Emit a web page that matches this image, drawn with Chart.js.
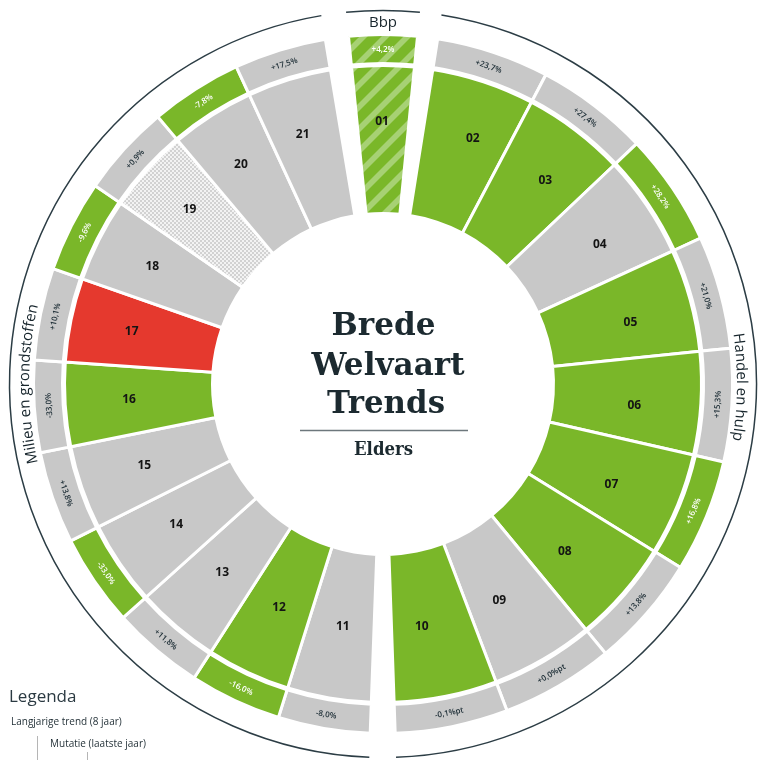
<!DOCTYPE html>
<html><head><meta charset="utf-8">
<script src="https://cdn.jsdelivr.net/npm/chart.js@4.4.1/dist/chart.umd.min.js"></script>
<style>html,body{margin:0;padding:0;background:#fff;overflow:hidden}canvas{display:block}</style>
</head><body>
<canvas id="c" width="761" height="760"></canvas>
<script>
// ---------- data ----------
const codes = ['01','02','03','04','05','06','07','08','09','10','11','12','13','14','15','16','17','18','19','20','21'];
const groupNames = ['Bbp', 'Handel en hulp', 'Milieu en grondstoffen'];
const groupSizes = [1, 9, 11];
const trendStatus = ['hatch','green','green','gray','green','green','green','green','gray','green',
                     'gray','green','gray','gray','gray','green','red','gray','nodata','gray','gray'];
const mutationLabels = ['+4,2%','+23,7%','+27,4%','+28,2%','+21,0%','+15,3%','+16,8%','+13,8%','+0,0%pt','-0,1%pt',
                        '-8,0%','-16,0%','+11,8%','-33,0%','+13,8%','-33,0%','+10,1%','-9,6%','+0,9%','-7,8%','+17,5%'];
const mutationStatus = ['hatch','gray','gray','green','gray','gray','green','gray','gray','gray',
                        'gray','green','gray','green','gray','gray','gray','green','gray','green','gray'];
const titleLines = ['Brede', 'Welvaart', 'Trends'];
const subtitle = 'Elders';
const legendTitle = 'Legenda';
const legendItems = ['Langjarige trend (8 jaar)', 'Mutatie (laatste jaar)'];

// ---------- layout / style ----------
const GREEN = '#7ab729', GRAY = '#c8c8c8', RED = '#e5392e', DARK = '#1f2d34', GAP = 'rgba(0,0,0,0)';
const groupStartDeg = [-5.67, 9.0, 182.1];
const groupEndDeg = [5.67, 178.0, 350.5];
const groupLabelDeg = [0, 90.5, 270];
const groupCodeShiftDeg = [0, 2.2, -0.73];

const canvas = document.getElementById('c');
const ctx = canvas.getContext('2d');

function makeHatch() {
  const s = 22, c = document.createElement('canvas'); c.width = c.height = s;
  const g = c.getContext('2d');
  g.fillStyle = GREEN; g.fillRect(0, 0, s, s);
  g.fillStyle = '#a7d174';
  const w = 8;
  for (let k = -1; k <= 2; k++) {
    const o = k * s;
    g.beginPath(); g.moveTo(o, 0); g.lineTo(o + w, 0); g.lineTo(o + w - s, s); g.lineTo(o - s, s); g.closePath(); g.fill();
  }
  return ctx.createPattern(c, 'repeat');
}
function makeDots() {
  const c = document.createElement('canvas'); c.width = c.height = 4;
  const g = c.getContext('2d');
  g.fillStyle = '#f3f3f3'; g.fillRect(0, 0, 4, 4);
  g.fillStyle = '#d2d2d2'; g.fillRect(0, 0, 2, 2); g.fillRect(2, 2, 2, 2);
  return ctx.createPattern(c, 'repeat');
}
const hatch = makeHatch(), dots = makeDots();
const fillFor = s => s === 'green' ? GREEN : s === 'gray' ? GRAY : s === 'red' ? RED : s === 'hatch' ? hatch : dots;

// slices: items per group, transparent gaps between groups
const sliceValues = [], sliceItem = [], sliceGroup = [];
let idx = 0;
for (let g = 0; g < groupSizes.length; g++) {
  const span = groupEndDeg[g] - groupStartDeg[g];
  for (let k = 0; k < groupSizes[g]; k++) { sliceValues.push(span / groupSizes[g]); sliceItem.push(idx++); sliceGroup.push(g); }
  const nextStart = g + 1 < groupSizes.length ? groupStartDeg[g + 1] : groupStartDeg[0] + 360;
  sliceValues.push(nextStart - groupEndDeg[g]); sliceItem.push(-1); sliceGroup.push(-1);
}
const trendBg = sliceItem.map(i => i < 0 ? GAP : fillFor(trendStatus[i]));
const mutBg = sliceItem.map(i => i < 0 ? GAP : fillFor(mutationStatus[i]));
const bw = sliceItem.map(i => i < 0 ? 0 : 3);

function curvedText(c, text, cx, cy, r, centerDeg) {
  const total = c.measureText(text).width;
  let a = centerDeg * Math.PI / 180 - (total / 2) / r;
  c.textAlign = 'center'; c.textBaseline = 'alphabetic';
  for (const ch of text) {
    const w = c.measureText(ch).width;
    const ang = a + (w / 2) / r;
    c.save();
    c.translate(cx + r * Math.sin(ang), cy - r * Math.cos(ang));
    c.rotate(ang);
    c.fillText(ch, 0, 0);
    c.restore();
    a += w / r;
  }
}
function fittedText(c, text, x, y, px, width) {
  c.font = `bold ${px}px "DejaVu Serif"`;
  const sx = width / c.measureText(text).width;
  c.save(); c.translate(x, y); c.scale(sx, 1);
  c.textAlign = 'center'; c.textBaseline = 'alphabetic';
  c.fillText(text, 0, 0);
  c.restore();
}

const overlay = {
  id: 'overlay',
  afterDraw(chart) {
    const c = chart.ctx;
    const mutMeta = chart.getDatasetMeta(0), trendMeta = chart.getDatasetMeta(2);
    const cx = trendMeta.data[0].x, cy = trendMeta.data[0].y;
    c.save();
    // outer group arcs
    c.strokeStyle = '#2c3d45'; c.lineWidth = 1.5;
    for (let g = 0; g < groupSizes.length; g++) {
      const members = sliceGroup.map((v, j) => v === g ? j : -1).filter(j => j >= 0);
      const s = trendMeta.data[members[0]].startAngle, e = trendMeta.data[members[members.length - 1]].endAngle;
      c.beginPath(); c.arc(cx, cy, 373.5, s, e); c.stroke();
    }
    // group labels
    c.fillStyle = '#17252c'; c.font = '500 15px "Open Sans"';
    c.textAlign = 'center'; c.textBaseline = 'alphabetic';
    c.fillText(groupNames[0], cx, cy - 357);
    curvedText(c, groupNames[1], cx, cy, 354, groupLabelDeg[1]);
    curvedText(c, groupNames[2], cx, cy, 354, groupLabelDeg[2]);

    // segment & mutation labels
    sliceItem.forEach((item, j) => {
      if (item < 0) return;
      const t = trendMeta.data[j], m = mutMeta.data[j];
      const a = (t.startAngle + t.endAngle) / 2;
      const al = a + groupCodeShiftDeg[sliceGroup[j]] * Math.PI / 180;
      const rl = 254 + 4.5 * (-Math.sin(al));
      c.fillStyle = '#141414'; c.font = 'bold 12px "Open Sans"';
      c.textAlign = 'center'; c.textBaseline = 'middle';
      c.fillText(codes[item], cx + rl * Math.cos(al) - 1, cy + rl * Math.sin(al) - 4);
      const rm = (m.innerRadius + m.outerRadius) / 2;
      let rot = a + Math.PI / 2; // clockwise from top
      const deg = ((rot * 180 / Math.PI) % 360 + 360) % 360;
      if (deg > 90 && deg < 260) rot -= Math.PI;
      c.save();
      c.translate(cx + rm * Math.cos(a), cy + rm * Math.sin(a));
      c.rotate(rot);
      c.font = '600 8px "Open Sans"';
      c.fillStyle = mutationStatus[item] === 'gray' ? '#22323a' : '#ffffff';
      c.fillText(mutationLabels[item], 0, 0.5);
      c.restore();
    });

    // centre title
    c.fillStyle = '#1c2a30';
    const baselines = [335, 374.5, 412.5];
    const widths = [104, 153, 118];
    titleLines.forEach((l, i) => fittedText(c, l, cx + [0.5, 5, 3][i], baselines[i], 31.5, widths[i]));
    c.strokeStyle = '#6d777c'; c.lineWidth = 1.5;
    c.beginPath(); c.moveTo(300, 430.5); c.lineTo(468, 430.5); c.stroke();
    fittedText(c, subtitle, cx + 0.5, 455, 18, 59);

    // legend
    c.textAlign = 'left'; c.textBaseline = 'alphabetic';
    c.fillStyle = '#2b3a42'; c.font = '17px "Open Sans"';
    c.fillText(legendTitle, 9, 702);
    c.fillStyle = DARK; c.font = '10px "Open Sans"';
    c.fillText(legendItems[0], 11, 725);
    c.fillText(legendItems[1], 50, 747);
    c.strokeStyle = '#b5b5b5'; c.lineWidth = 1;
    c.beginPath(); c.moveTo(37.5, 736); c.lineTo(37.5, 760); c.moveTo(87.5, 752); c.lineTo(87.5, 760); c.stroke();
    c.restore();
  }
};

new Chart(ctx, {
  type: 'doughnut',
  data: {
    labels: sliceItem.map(i => i < 0 ? '' : codes[i]),
    datasets: [
      { data: sliceValues, backgroundColor: mutBg, borderColor: '#ffffff', borderWidth: bw, weight: 29 },
      { data: sliceValues, backgroundColor: GAP, borderWidth: 0, weight: 2 },
      { data: sliceValues, backgroundColor: trendBg, borderColor: '#ffffff', borderWidth: bw, weight: 148 }
    ]
  },
  options: {
    responsive: false, animation: false, events: [],
    rotation: groupStartDeg[0], circumference: 360,
    radius: 349.5, cutout: (170.5 / 349.5 * 100) + '%',
    layout: { padding: { left: 20, right: 15, top: 16, bottom: 8 } },
    plugins: { legend: { display: false }, tooltip: { enabled: false } }
  },
  plugins: [overlay]
});
</script>
</body></html>
